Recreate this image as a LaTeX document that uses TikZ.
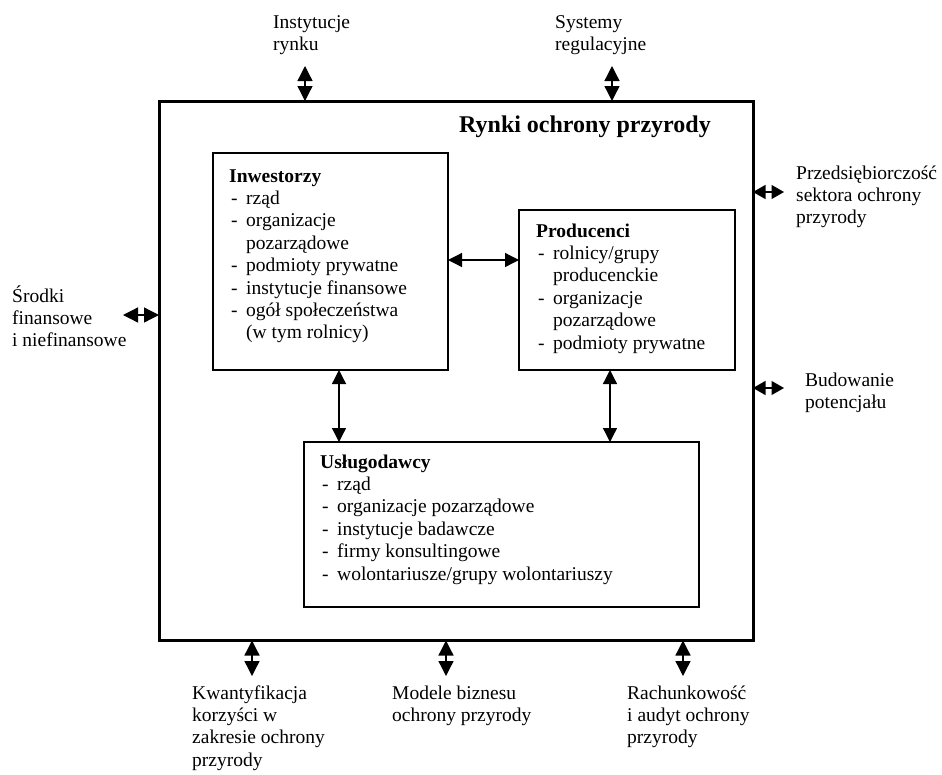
\documentclass[tikz,border=0pt]{standalone}
\usepackage{fontspec}
\setmainfont{Liberation Serif}
\usetikzlibrary{arrows.meta}
\newcommand{\mylines}[1]{\begin{tabular}[t]{@{}l@{}}#1\end{tabular}}
\newcommand{\itm}[1]{\hspace*{2pt}\makebox[15pt][l]{-}#1}
\newcommand{\cnt}[1]{\hspace*{17pt}#1}
\begin{document}
\begin{tikzpicture}[x=1pt,y=-1pt,
  font=\fontsize{19.5pt}{22.4pt}\selectfont,
  outerbox/.style={draw, line width=3pt, inner sep=0pt, outer sep=0pt},
  box/.style={draw, line width=1.3pt, inner sep=0pt, outer sep=0pt},
  lbl/.style={anchor=base west, inner sep=0pt},
  inarr/.style={{Triangle[length=14pt,width=14pt]}-{Triangle[length=14pt,width=14pt]}, line width=1.3pt},
  outarr/.style={{Triangle[length=15pt,width=15pt]}-{Triangle[length=15pt,width=15pt]}, line width=1.3pt},
  outarrs/.style={{Triangle[length=12.5pt,width=14pt]}-{Triangle[length=12.5pt,width=14pt]}, line width=1.3pt}]
\useasboundingbox (0,0) rectangle (942,774);

% main frame
\node[outerbox, minimum width=594pt, minimum height=539.5pt] (market) at (456,370.75) {};
\node[anchor=base east, inner sep=0pt, font=\fontsize{24pt}{28pt}\selectfont\bfseries] (title) at (711,132) {Rynki ochrony przyrody};

% inner boxes
\node[box, minimum width=235pt, minimum height=217pt] (inw) at (330.5,261.5) {};
\node[box, minimum width=216pt, minimum height=160pt] (prod) at (627,290) {};
\node[box, minimum width=395pt, minimum height=165pt] (usl) at (501.5,524.5) {};

\node[lbl] (inwt) at (229,182) {\mylines{\textbf{Inwestorzy}\\
  \itm{rząd}\\
  \itm{organizacje}\\
  \cnt{pozarządowe}\\
  \itm{podmioty prywatne}\\
  \itm{instytucje finansowe}\\
  \itm{ogół społeczeństwa}\\
  \cnt{(w tym rolnicy)}}};

\node[lbl] (prodt) at (536,237) {\mylines{\textbf{Producenci}\\
  \itm{rolnicy/grupy}\\
  \cnt{producenckie}\\
  \itm{organizacje}\\
  \cnt{pozarządowe}\\
  \itm{podmioty prywatne}}};

\node[lbl] (uslt) at (320,468) {\mylines{\textbf{Usługodawcy}\\
  \itm{rząd}\\
  \itm{organizacje pozarządowe}\\
  \itm{instytucje badawcze}\\
  \itm{firmy konsultingowe}\\
  \itm{wolontariusze/grupy wolontariuszy}}};

% inner connectors
\draw[inarr] ([yshift=1.5pt]inw.east) -- ([yshift=1.5pt]inw.east -| prod.west);
\draw[inarr] ([xshift=8.5pt]inw.south) -- ([xshift=8.5pt]inw.south |- usl.north);
\draw[inarr] ([xshift=-17pt]prod.south) -- ([xshift=-17pt]prod.south |- usl.north);

% outer labels
\node[lbl] (l1) at (273,28) {\mylines{Instytucje\\rynku}};
\node[lbl] (l2) at (555,28) {\mylines{Systemy\\regulacyjne}};
\node[lbl] (l3) at (796,179) {\mylines{Przedsiębiorczość\\sektora ochrony\\przyrody}};
\node[lbl] (l4) at (805,386) {\mylines{Budowanie\\potencjału}};
\node[lbl] (l5) at (12,302) {\mylines{Środki\\finansowe\\i niefinansowe}};
\node[lbl] (l6) at (192,699) {\mylines{Kwantyfikacja\\korzyści w\\zakresie ochrony\\przyrody}};
\node[lbl] (l7) at (392,699) {\mylines{Modele biznesu\\ochrony przyrody}};
\node[lbl] (l8) at (627,699) {\mylines{Rachunkowość\\i audyt ochrony\\przyrody}};

% outer connectors
\coordinate (c1) at (305,66);
\coordinate (c2) at (612,66);
\coordinate (c3) at (784,192);
\coordinate (c4) at (784,388);
\coordinate (c5) at (123,315);
\coordinate (c6) at (252,676);
\coordinate (c7) at (446,676);
\coordinate (c8) at (683,676);
\draw[outarr] (c1) -- (c1 |- market.north);
\draw[outarr] (c2) -- (c2 |- market.north);
\draw[outarrs] (c3) -- (c3 -| market.east);
\draw[outarrs] (c4) -- (c4 -| market.east);
\draw[outarr] (c5) -- (c5 -| market.west);
\draw[outarr] (c6) -- (c6 |- market.south);
\draw[outarr] (c7) -- (c7 |- market.south);
\draw[outarr] (c8) -- (c8 |- market.south);
\end{tikzpicture}
\end{document}
